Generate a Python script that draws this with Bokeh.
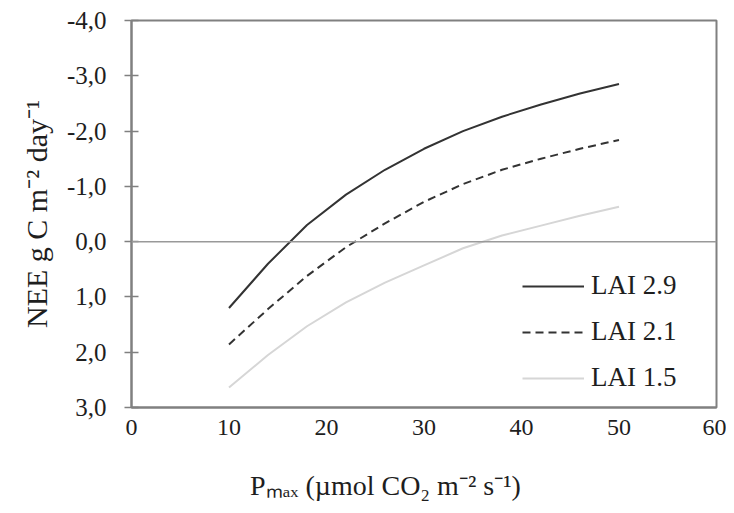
from bokeh.plotting import figure
from bokeh.models import Range1d, FixedTicker, Span, Legend, LegendItem
from bokeh.embed import file_html
from bokeh.resources import INLINE

# Data
pmax = [10, 14, 18, 22, 26, 30, 34, 38, 42, 46, 50]
lai_29 = [1.20, 0.40, -0.30, -0.85, -1.30, -1.68, -2.00, -2.26, -2.48, -2.68, -2.85]
lai_21 = [1.86, 1.22, 0.62, 0.10, -0.33, -0.72, -1.04, -1.30, -1.50, -1.68, -1.84]
lai_15 = [2.64, 2.05, 1.53, 1.10, 0.74, 0.43, 0.12, -0.11, -0.29, -0.47, -0.63]
series_names = ["LAI 2.9", "LAI 2.1", "LAI 1.5"]

x_ticks = [0, 10, 20, 30, 40, 50, 60]
y_ticks = [-4, -3, -2, -1, 0, 1, 2, 3]
y_tick_labels = ["-4,0", "-3,0", "-2,0", "-1,0", "0,0", "1,0", "2,0", "3,0"]
x_title = "P\u2098\u2090\u2093 (\u00b5mol CO\u2082 m\u207b\u00b2 s\u207b\u00b9)"
y_title = "NEE g C m\u207b\u00b2 day\u207b\u00b9"

FONT = "Liberation Serif"
GRAY = "#808080"
TXT = "#1e1e1e"

p = figure(width=726, height=505, output_backend="svg", toolbar_location=None,
           x_range=Range1d(0, 60), y_range=Range1d(3, -4),
           min_border_left=131, min_border_right=10, min_border_top=20, min_border_bottom=98)
p.background_fill_color = "white"
p.border_fill_color = "white"
p.outline_line_color = GRAY
p.outline_line_width = 2
p.xgrid.visible = False
p.ygrid.visible = False

# x axis
p.xaxis.ticker = FixedTicker(ticks=x_ticks)
p.xaxis.major_tick_line_color = None
p.xaxis.minor_tick_line_color = None
p.xaxis.axis_line_color = GRAY
p.xaxis.axis_line_width = 2
p.xaxis.major_label_text_font = FONT
p.xaxis.major_label_text_font_size = "24px"
p.xaxis.major_label_text_color = TXT
p.xaxis.major_label_standoff = 6
# trailing no-break spaces shift the centred title left, as in the reference
p.xaxis.axis_label = x_title + "\u00a0" * 11
p.xaxis.axis_label_text_font = FONT
p.xaxis.axis_label_text_font_style = "normal"
p.xaxis.axis_label_text_font_size = "28px"
p.xaxis.axis_label_text_color = TXT
p.xaxis.axis_label_standoff = 32

# y axis
p.yaxis.ticker = FixedTicker(ticks=y_ticks)
p.yaxis.major_label_overrides = {t: l for t, l in zip(y_ticks, y_tick_labels)}
p.yaxis.major_tick_in = 7
p.yaxis.major_tick_out = 7
p.yaxis.major_tick_line_color = GRAY
p.yaxis.major_tick_line_width = 1.5
p.yaxis.minor_tick_line_color = None
p.yaxis.axis_line_color = GRAY
p.yaxis.axis_line_width = 2
p.yaxis.major_label_text_font = FONT
p.yaxis.major_label_text_font_size = "25px"
p.yaxis.major_label_text_color = TXT
p.yaxis.major_label_standoff = 18
p.yaxis.axis_label = y_title
p.yaxis.axis_label_text_font = FONT
p.yaxis.axis_label_text_font_style = "normal"
p.yaxis.axis_label_text_font_size = "30px"
p.yaxis.axis_label_text_color = TXT
p.yaxis.axis_label_standoff = 11

# zero line
p.add_layout(Span(location=0, dimension="width", line_color="#999999", line_width=1.5))

r1 = p.line(pmax, lai_29, line_color="#333333", line_width=2)
r2 = p.line(pmax, lai_21, line_color="#333333", line_width=2, line_dash="8 5")
r3 = p.line(pmax, lai_15, line_color="#d6d6d6", line_width=2)

legend = Legend(items=[LegendItem(label=series_names[0], renderers=[r1]),
                       LegendItem(label=series_names[1], renderers=[r2]),
                       LegendItem(label=series_names[2], renderers=[r3])],
                location=(391, 14))
legend.border_line_color = None
legend.background_fill_alpha = 0
legend.label_text_font = FONT
legend.label_text_font_size = "27px"
legend.label_text_color = TXT
legend.glyph_width = 62
legend.glyph_height = 30
legend.label_standoff = 7
legend.spacing = 15
legend.padding = 5
legend.margin = 0
p.add_layout(legend, "center")

open("out.html", "w").write(file_html(p, INLINE))
